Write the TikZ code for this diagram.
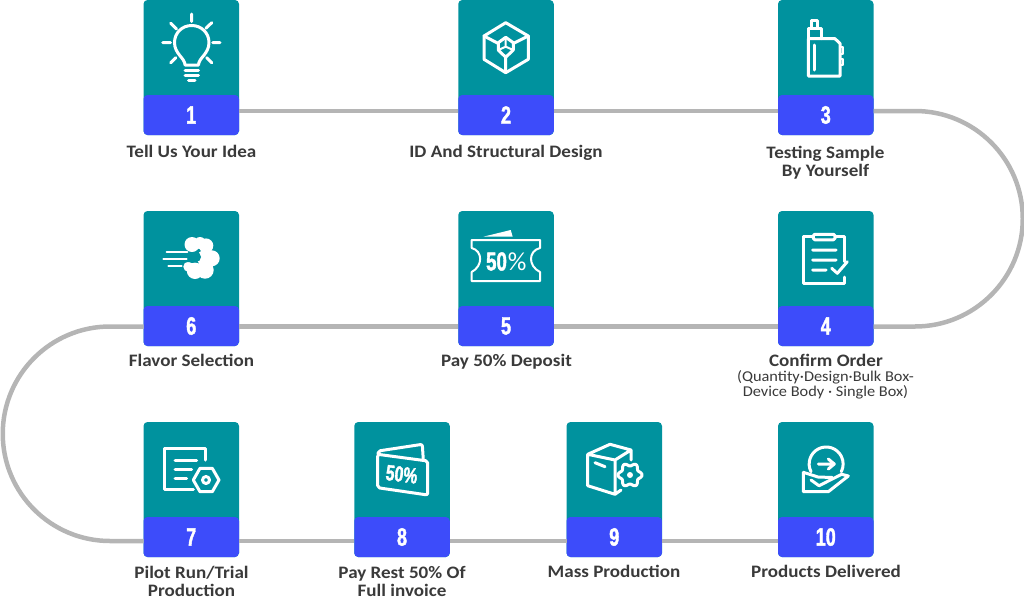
\documentclass[tikz,border=0pt]{standalone}
\usepackage{fontspec}
\usetikzlibrary{positioning}
\setmainfont{Carlito}
\newfontfamily\labelfont[FakeStretch=1.09]{Carlito}
\newfontfamily\numfont[FakeStretch=0.72,FakeBold=1.6]{Liberation Sans}
\definecolor{cardteal}{RGB}{0,146,158}
\definecolor{numblue}{RGB}{61,76,250}
\definecolor{trackgray}{RGB}{181,181,181}
\definecolor{labelgray}{RGB}{58,58,58}
\tikzset{
	cardbox/.style={fill=cardteal,rounded corners=4pt,minimum width=95.5pt,minimum height=135pt,inner sep=0pt,outer sep=0pt,
		path picture={\fill[numblue] ([yshift=40pt]path picture bounding box.south west) rectangle (path picture bounding box.south east);}},
	numtext/.style={text=white,font=\numfont\bfseries\fontsize{25}{25}\selectfont,inner sep=0pt},
	steplabel/.style={text=labelgray,align=center,inner sep=0pt,anchor=base,font=\labelfont\bfseries\fontsize{17.5}{18.2}\selectfont},
	sublabel/.style={text=labelgray,align=center,inner sep=0pt,font=\labelfont\fontsize{15}{15}\selectfont},
	track/.style={draw=trackgray,line width=4.5pt,line cap=butt},
	icon/.style={draw=white,line width=3pt},
	thinicon/.style={draw=white,line width=2pt}
}
\begin{document}
\begin{tikzpicture}[x=1pt,y=-1pt,line join=round,line cap=round]
	\useasboundingbox (0,0) rectangle (1024,597);
	\coordinate (r1) at (0,111); \coordinate (r2) at (0,326.5); \coordinate (r3) at (0,541); % heights of the track
	% cards
	\node[cardbox] (c1) at (191.25,67.5) {};
	\node[cardbox] (c2) at (506,67.5) {};
	\node[cardbox] (c3) at (825.75,67.5) {};
	\node[cardbox] (c4) at (825.75,278.5) {};
	\node[cardbox] (c5) at (506,278.5) {};
	\node[cardbox] (c6) at (191.25,278.5) {};
	\node[cardbox] (c7) at (191.25,489.5) {};
	\node[cardbox] (c8) at (402,489.5) {};
	\node[cardbox] (c9) at (614.25,489.5) {};
	\node[cardbox] (c10) at (825.75,489.5) {};
	% track
	\draw[track] (c1.east |- r1)--(c2.west |- r1);
	\draw[track] (c2.east |- r1)--(c3.west |- r1);
	\draw[track] (c3.east |- r1)--(915,111) arc[start angle=-90,end angle=90,radius=107.75]--(c4.east |- r2);
	\draw[track] (c4.west |- r2)--(c5.east |- r2);
	\draw[track] (c5.west |- r2)--(c6.east |- r2);
	\draw[track] (c6.west |- r2)--(110,326.5) arc[start angle=270,end angle=90,radius=107.25]--(c7.west |- r3);
	\draw[track] (c7.east |- r3)--(c8.west |- r3);
	\draw[track] (c8.east |- r3)--(c9.west |- r3);
	\draw[track] (c9.east |- r3)--(c10.west |- r3);
	% numbers
	\node[numtext] (n1) at ([yshift=20pt]c1.south) {1};
	\node[numtext] (n2) at ([yshift=20pt]c2.south) {2};
	\node[numtext] (n3) at ([yshift=20pt]c3.south) {3};
	\node[numtext] (n4) at ([yshift=20pt]c4.south) {4};
	\node[numtext] (n5) at ([yshift=20pt]c5.south) {5};
	\node[numtext] (n6) at ([yshift=20pt]c6.south) {6};
	\node[numtext] (n7) at ([yshift=20pt]c7.south) {7};
	\node[numtext] (n8) at ([yshift=20pt]c8.south) {8};
	\node[numtext] (n9) at ([yshift=20pt]c9.south) {9};
	\node[numtext] (n10) at ([yshift=20pt]c10.south) {10};
	% labels
	\node[steplabel] (l1) at (191.5,157.3) {Tell Us Your Idea};
	\node[steplabel] (l2) at (506,157.3) {ID And Structural Design};
	\node[steplabel,anchor=center] (l3) at (825.5,162.5) {Testing Sample\\By Yourself};
	\node[steplabel] (l4) at (826,366) {Confirm Order};
	\node[sublabel] (s4) at (825.5,384.5) {(Quantity·Design·Bulk Box-\\Device Body · Single Box)};
	\node[steplabel] (l5) at (506.5,366) {Pay 50\% Deposit};
	\node[steplabel] (l6) at (191.5,366) {Flavor Selection};
	\node[steplabel,anchor=center] (l7) at (191.5,581.5) {Pilot Run/Trial\\Production};
	\node[steplabel,anchor=center] (l8) at (402,581.5) {Pay Rest 50\% Of\\Full invoice};
	\node[steplabel] (l9) at (614,577.7) {Mass Production};
	\node[steplabel] (l10) at (826,577.7) {Products Delivered};
	% icon 1: bulb
	\draw[icon] (185,65)..controls (185,58) and (174.5,54)..(174.5,42.5)..controls (174.5,33) and (182,25.5)..(191.7,25.5)..controls (201.5,25.5) and (209,33)..(209,42.5)..controls (209,54) and (198.5,58)..(198.5,65)--cycle;
	\draw[icon] (185,70.5)--(198.5,70.5) (185,75.5)--(198.5,75.5) (188.5,80)--(195,80);
	\draw[icon] (191.7,14)--(191.7,21.5) (162.7,42.7)--(170.5,42.7) (212.7,42.7)--(220,42.7) (170.7,23.3)--(176.5,29) (211.7,22.7)--(206,28.3) (170.7,62.7)--(175.7,57.7) (211.7,62.7)--(206.7,57.7);
	% icon 2: cube
	\draw[icon] (505.7,22.7)--(528.3,36)--(528.3,59.3)--(505.7,72.7)--(484,59.3)--(484,36)--cycle;
	\draw[icon] (484,36)--(498.3,43.5) (528.3,36)--(513.3,43.5) (505.7,72.7)--(505.7,57.5);
	\draw[icon] (505.7,37.3)--(513.3,42.7)--(513.3,50)--(505.7,57.3)--(498.3,50)--(498.3,42.7)--cycle;
	\draw[thinicon] (505.7,37.3)--(505.7,46.7)--(513.3,50) (505.7,46.7)--(498.3,50);
	% icon 3: device
	\draw[icon] (808.3,38.7)--(835,38.7)--(840,43.5)--(840,76)--(808.3,76)--cycle;
	\draw[icon] (808.3,38.7)--(808.3,28.3)--(821.7,28.3)--(821.7,38.7) (811.7,28.3)--(811.7,20)--(817.3,20)--(817.3,28.3);
	\draw[icon] (814.3,45)--(814.3,70);
	\draw[thinicon] (840,46.7)--(843.3,46.7)--(843.3,54.3)--(840,54.3) (840,59.3)--(843.3,59.3)--(843.3,65)--(840,65);
	% icon 4: clipboard
	\draw[icon] (844,261.5)--(844,236.7)--(835,236.7) (813.3,236.7)--(803.3,236.7)--(803.3,283.3)--(844,283.3)--(844,277);
	\draw[icon,rounded corners=1.5pt] (813.3,234.3) rectangle (835,239.8);
	\draw[icon] (812.7,250)--(836,250) (812.7,260)--(836,260) (812.7,270)--(826,270) (831.7,268.3)--(837.3,273.3)--(847.3,261.7);
	% icon 5: ticket
	\draw[thinicon] (471.7,240)--(540,240)--(540,248)..controls (528,251) and (528,266)..(540,272)--(540,281)--(471.7,281)--(471.7,272)..controls (483,266) and (483,251)..(471.7,248)--cycle;
	\fill[white] (483.3,236.7)--(510.7,230)--(512.7,236.7)--cycle;
	\node[text=white,inner sep=0pt,font=\numfont\bfseries\fontsize{26}{26}\selectfont] (t5) at (496.5,261.5) {50};
	\node[text=white,inner sep=0pt,font=\fontsize{26}{26}\selectfont,right=0.5pt of t5] (p5) {\%};
	% icon 6: smoke
	\fill[white] (192,244.5) circle(7.5) (200,243) circle(6) (206,245.7) circle(7.3) (211.7,258.3) circle(8) (205,270) circle(8.7) (195,270.8) circle(8.2) (188.3,266.7) circle(5) (205,258) circle(8);
	\fill[cardteal] (182,252) rectangle (196,262) (196,257) circle(5);
	\draw[thinicon] (166.7,252.3)--(187.3,252.3) (163.3,259)--(186.7,259) (168.3,265.7)--(181.7,265.7);
	% icon 7: sheet and nut
	\draw[icon] (205.7,460)--(205.7,448.3)--(164.3,448.3)--(164.3,489)--(193.3,489);
	\draw[icon] (175,460)--(196.7,460) (175,469)--(191.7,469) (175,478.3)--(186.7,478.3);
	\draw[icon] (200,468.3)--(212.3,468.3)--(219,480)--(212.3,491.7)--(200,491.7)--(193.3,480)--cycle;
	\draw[icon] (206,480) circle(3.5);
	% icon 8: folded card
	\draw[icon,rounded corners=2pt] (377.7,454.3)--(427.7,461)--(427.7,495)--(377.7,487.7)--cycle;
	\draw[icon,rounded corners=2pt] (378,454)--(378.3,451)--(422.3,444.3)--(423.3,460);
	\node[text=white,inner sep=0pt,rotate=-7,font=\numfont\bfseries\fontsize{22}{22}\selectfont] (t8) at (401.7,474.3) {50\%};
	% icon 9: box and gear
	\draw[icon] (587.7,454.3)--(615,460)--(631,450)--(610,444.3)--cycle (587.7,454.3)--(587.7,485.7)--(615,494.3)--(615,460) (631,450)--(631,460) (615,494.3)--(621,490);
	\draw[icon] (595,462.7)--(605,466.7);
	\draw[icon,fill=cardteal] plot[domain=0:360,samples=73,smooth] ({630+(10.5+1.5*cos(6*\x))*cos(\x)},{475+(10.5+1.5*cos(6*\x))*sin(\x)})--cycle;
	\fill[white] (630,475) circle(3);
	% icon 10: hand and arrow
	\draw[icon] (811,471.7) arc[start angle=153,end angle=387,radius=17];
	\draw[icon] (818.3,464)--(833.3,464) (828.3,459)--(834.3,464)--(828.3,469);
	\draw[icon] (803.3,472.3)--(803.3,491.7)--(828.3,491.7)--(848.3,476)--(841.7,474.3)--(819,485.7)--(811,480) (803.3,472.3)--(818,477)--(832.3,477.5);
\end{tikzpicture}
\end{document}
